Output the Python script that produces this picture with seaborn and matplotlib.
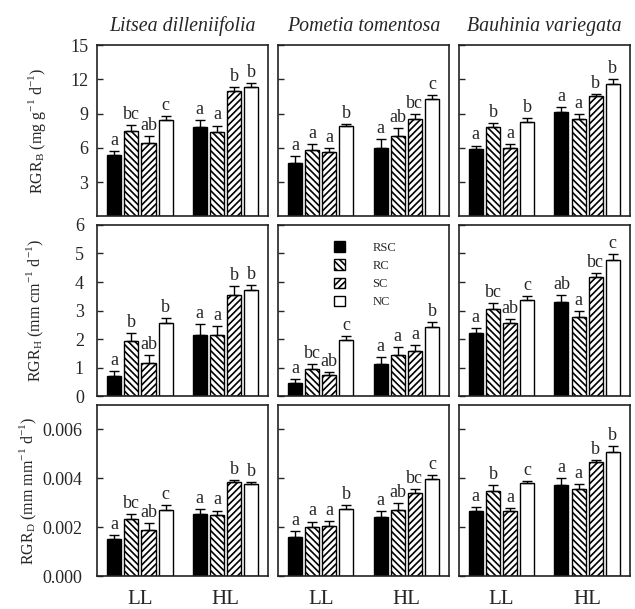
import numpy as np
import pandas as pd
import matplotlib
matplotlib.use("Agg")
import matplotlib.pyplot as plt
import seaborn as sns
from matplotlib.patches import Patch

# -------------------------------
# DATA (order: LL RSC, RC, SC, NC, then HL RSC, RC, SC, NC)
# -------------------------------
species = ["Litsea dilleniifolia", "Pometia tomentosa", "Bauhinia variegata"]
lights = ["LL", "HL"]
treatments = ["RSC", "RC", "SC", "NC"]

# RGR biomass (mg g-1 d-1)
b_lit = [5.35, 7.5, 6.45, 8.4, 7.85, 7.4, 11.0, 11.3]
b_lit_se = [0.35, 0.5, 0.55, 0.4, 0.55, 0.55, 0.3, 0.35]
b_lit_sig = ["a", "bc", "ab", "c", "a", "a", "b", "b"]
b_pom = [4.65, 5.8, 5.6, 7.9, 6.0, 7.0, 8.5, 10.3]
b_pom_se = [0.6, 0.5, 0.4, 0.2, 0.75, 0.75, 0.45, 0.3]
b_pom_sig = ["a", "a", "a", "b", "a", "ab", "bc", "c"]
b_bau = [5.9, 7.8, 6.0, 8.3, 9.1, 8.5, 10.5, 11.55]
b_bau_se = [0.3, 0.4, 0.35, 0.3, 0.5, 0.5, 0.25, 0.45]
b_bau_sig = ["a", "b", "a", "b", "a", "a", "b", "b"]

# RGR height (mm cm-1 d-1)
h_lit = [0.7, 1.95, 1.15, 2.55, 2.15, 2.13, 3.55, 3.72]
h_lit_se = [0.18, 0.27, 0.3, 0.2, 0.37, 0.32, 0.3, 0.18]
h_lit_sig = ["a", "b", "ab", "b", "a", "a", "b", "b"]
h_pom = [0.47, 0.95, 0.76, 1.98, 1.14, 1.45, 1.58, 2.43]
h_pom_se = [0.14, 0.19, 0.08, 0.14, 0.23, 0.27, 0.21, 0.17]
h_pom_sig = ["a", "bc", "ab", "c", "a", "a", "a", "b"]
h_bau = [2.2, 3.05, 2.55, 3.36, 3.3, 2.78, 4.18, 4.78]
h_bau_se = [0.18, 0.22, 0.14, 0.16, 0.25, 0.22, 0.12, 0.2]
h_bau_sig = ["a", "bc", "ab", "c", "ab", "a", "bc", "c"]

# RGR diameter (mm mm-1 d-1)
d_lit = [0.0015, 0.00233, 0.0019, 0.0027, 0.00255, 0.00248, 0.00383, 0.00377]
d_lit_se = [0.00017, 0.0002, 0.00027, 0.00019, 0.0002, 0.0002, 0.00011, 0.00008]
d_lit_sig = ["a", "bc", "ab", "c", "a", "a", "b", "b"]
d_pom = [0.0016, 0.002, 0.00206, 0.00275, 0.0024, 0.00272, 0.0034, 0.00398]
d_pom_se = [0.00023, 0.00023, 0.00018, 0.00014, 0.00025, 0.00027, 0.00014, 0.00014]
d_pom_sig = ["a", "a", "a", "b", "a", "ab", "bc", "c"]
d_bau = [0.00265, 0.00346, 0.00267, 0.00379, 0.00374, 0.00354, 0.00468, 0.00507]
d_bau_se = [0.00017, 0.00025, 0.00012, 0.00008, 0.00026, 0.00024, 0.00008, 0.00023]
d_bau_sig = ["a", "b", "a", "c", "a", "a", "b", "b"]

ylabels = [r"RGR$_\mathregular{B}$ (mg g$^\mathregular{-1}$ d$^\mathregular{-1}$)",
           r"RGR$_\mathregular{H}$ (mm cm$^\mathregular{-1}$ d$^\mathregular{-1}$)",
           r"RGR$_\mathregular{D}$ (mm mm$^\mathregular{-1}$ d$^\mathregular{-1}$)"]

rows = [
    [(b_lit, b_lit_se, b_lit_sig), (b_pom, b_pom_se, b_pom_sig), (b_bau, b_bau_se, b_bau_sig)],
    [(h_lit, h_lit_se, h_lit_sig), (h_pom, h_pom_se, h_pom_sig), (h_bau, h_bau_se, h_bau_sig)],
    [(d_lit, d_lit_se, d_lit_sig), (d_pom, d_pom_se, d_pom_sig), (d_bau, d_bau_se, d_bau_sig)],
]

# -------------------------------
# STYLE
# -------------------------------
sns.set_style("ticks")
plt.rcParams["font.family"] = ["Liberation Serif", "DejaVu Serif"]
plt.rcParams["mathtext.fontset"] = "custom"
plt.rcParams["mathtext.rm"] = "Liberation Serif"
plt.rcParams["hatch.linewidth"] = 1.2
plt.rcParams["hatch.color"] = "black"

colors = {"RSC": "black", "RC": "white", "SC": "white", "NC": "white"}
hatches = {"RSC": "", "RC": "\\\\\\\\\\", "SC": "/////", "NC": ""}

ylims = [(0, 15), (0, 6), (0, 0.007)]
yticks = [[3, 6, 9, 12, 15], [0, 1, 2, 3, 4, 5, 6], [0, 0.002, 0.004, 0.006]]
yfmt = ["{:g}", "{:g}", "{:.3f}"]
ypads = [6.5, 9.5, 11]
ylab_x = [-0.29, -0.30, -0.34]


def draw(ax, vals, errs, sigs):
    df = pd.DataFrame({
        "light": np.repeat(lights, len(treatments)),
        "treatment": np.tile(treatments, len(lights)),
        "value": vals,
    })
    sns.barplot(data=df, x="light", y="value", hue="treatment",
                order=lights, hue_order=treatments, palette=colors,
                saturation=1, edgecolor="black", linewidth=1,
                errorbar=None, width=0.8, gap=0.18, legend=False, ax=ax)
    for i, (cont, t) in enumerate(zip(ax.containers, treatments)):
        for j, bar in enumerate(cont):
            bar.set_hatch(hatches[t])
            k = j * len(treatments) + i
            x = bar.get_x() + bar.get_width() / 2
            top = bar.get_height()
            ax.errorbar(x, top, yerr=[[0], [errs[k]]], fmt="none",
                        ecolor="black", elinewidth=1, capsize=3.8, capthick=1)
            ax.annotate(sigs[k], (x, top + errs[k]), xytext=(0, 1.5),
                        textcoords="offset points", ha="center", va="bottom",
                        fontsize=13)


fig, axes = plt.subplots(3, 3, figsize=(6.35, 6.09), dpi=100)
fig.subplots_adjust(left=0.153, right=0.992, top=0.926, bottom=0.054,
                    wspace=0.056, hspace=0.05)

for r in range(3):
    for c in range(3):
        ax = axes[r, c]
        vals, errs, sigs = rows[r][c]
        draw(ax, vals, errs, sigs)
        ax.set_xlim(-0.5, 1.5)
        ax.set_ylim(*ylims[r])
        ax.set_yticks(yticks[r])
        ax.set_xlabel("")
        ax.set_ylabel("")
        for s in ax.spines.values():
            s.set_visible(True)
            s.set_linewidth(1.2)
            s.set_color("#222222")
        ax.tick_params(axis="y", direction="in", length=4, width=1,
                       labelsize=13, pad=ypads[r])
        ax.tick_params(axis="x", length=0, labelsize=15, pad=10)
        if c == 0:
            ax.set_yticklabels([yfmt[r].format(v) for v in yticks[r]])
            ax.set_ylabel(ylabels[r], fontsize=11.5)
            ax.yaxis.set_label_coords(ylab_x[r], 0.5)
        else:
            ax.set_yticklabels([])
        if r < 2:
            ax.set_xticklabels([])
        if r == 0:
            ax.set_title(species[c], style="italic", fontsize=14.3, pad=10)

# legend in the centre panel
handles = [Patch(facecolor=colors[t], edgecolor="black", hatch=hatches[t], label=t)
           for t in treatments]
axes[1, 1].legend(handles=handles, loc="upper left", bbox_to_anchor=(0.26, 0.97),
                  frameon=False, fontsize=9, handlelength=0.9, handleheight=0.9,
                  handletextpad=2.2, labelspacing=0.45)

plt.savefig("out.png", dpi=100)
plt.close()
